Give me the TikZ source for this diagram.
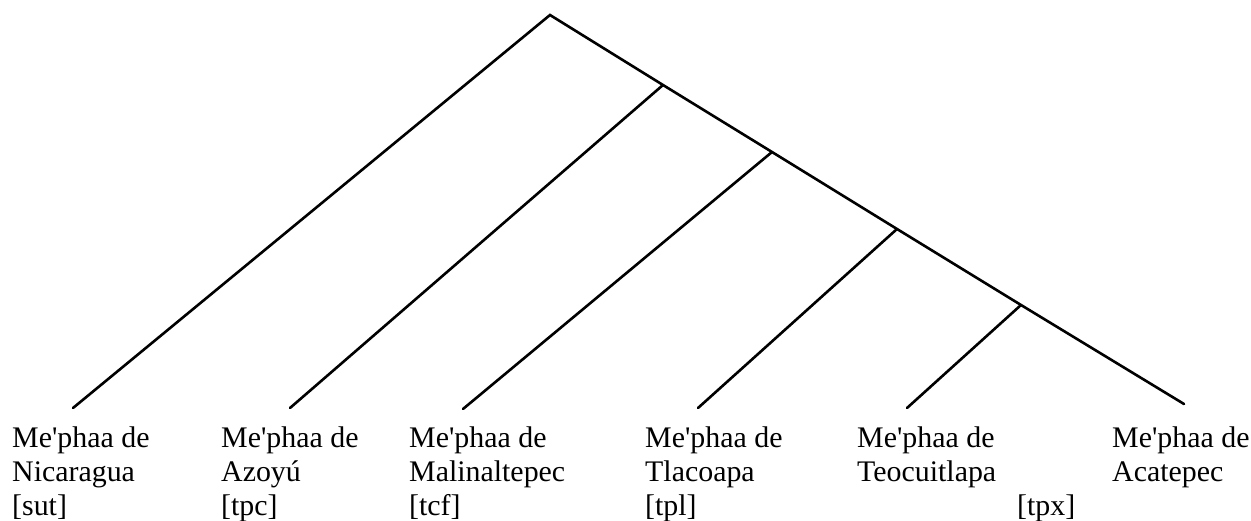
\documentclass[tikz,border=0pt]{standalone}
\usepackage{fontspec}
\setmainfont{Liberation Serif}[Ligatures=TeXOff]
\begin{document}
\begin{tikzpicture}[x=1bp,y=-1bp,
  branch/.style={line width=2.6bp, line cap=round},
  leaf/.style={anchor=north west, inner sep=0pt, align=left,
    font=\fontsize{30}{34}\selectfont}]
\useasboundingbox (0,0) rectangle (1251,521);
% internal nodes
\coordinate (root) at (550,15);
\coordinate (n1) at (663,85);
\coordinate (n2) at (772,152);
\coordinate (n3) at (897,229);
\coordinate (n4) at (1021,305);
% leaf tips
\coordinate (t1) at (73,408);
\coordinate (t2) at (290,408);
\coordinate (t3) at (463,409);
\coordinate (t4) at (698,408);
\coordinate (t5) at (907,408);
\coordinate (t6) at (1184,404);
% branches
\draw[branch] (t1) -- (root) -- (n1) -- (n2) -- (n3) -- (n4) -- (t6);
\draw[branch] (n1) -- (t2);
\draw[branch] (n2) -- (t3);
\draw[branch] (n3) -- (t4);
\draw[branch] (n4) -- (t5);
% leaf labels
\node[leaf] (sut) at (12,427) {Me'phaa de\\Nicaragua\\{[sut]}};
\node[leaf] (tpc) at (221,427) {Me'phaa de\\Azoyú\\{[tpc]}};
\node[leaf] (tcf) at (409,427) {Me'phaa de\\Malinaltepec\\{[tcf]}};
\node[leaf] (tpl) at (645,427) {Me'phaa de\\Tlacoapa\\{[tpl]}};
\node[leaf] (tpx) at (857,427) {Me'phaa de\\Teocuitlapa\\\hspace*{160bp}{[tpx]}};
\node[leaf] (acx) at (1112,427) {Me'phaa de\\Acatepec};
\end{tikzpicture}
\end{document}
